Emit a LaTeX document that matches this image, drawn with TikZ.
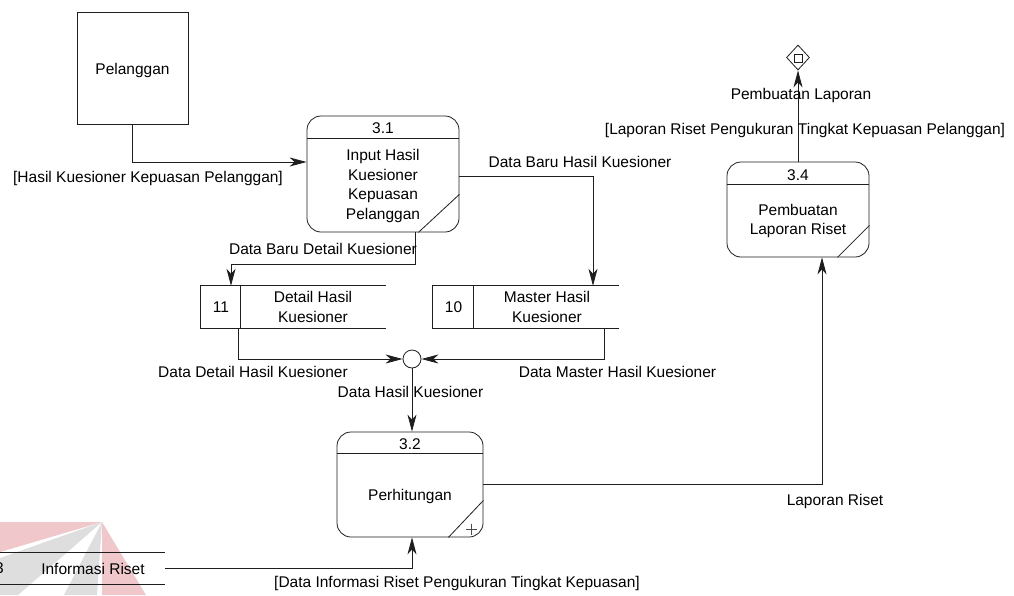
\documentclass[tikz,border=0pt]{standalone}
\usepackage{fontspec}
\setmainfont{Liberation Sans}
\usetikzlibrary{arrows.meta,calc,shapes.geometric}
\definecolor{inkline}{RGB}{30,30,30}
\definecolor{wmpink}{RGB}{240,200,204}
\definecolor{wmgrey}{RGB}{222,222,222}
\begin{document}
\begin{tikzpicture}[x=1pt,y=-1pt,
  every node/.style={font=\fontsize{15.5}{19.5}\selectfont, inner sep=0pt, text=black},
  wire/.style={line width=0.8pt, draw=inkline},
  flow/.style={wire, -{Stealth[length=17pt,width=9pt,inset=5pt]}},
  entity/.style={wire, rectangle, minimum width=111pt, minimum height=112pt},
  procbox/.style={wire, rectangle, rounded corners=14pt},
  storebox/.style={rectangle, minimum height=42pt},
  txt/.style={align=center}
]
\useasboundingbox (0,0) rectangle (1014,595);
\clip (0,0) rectangle (1014,595);
\fill[white] (0,0) rectangle (1014,595);

% faint logo in the lower left corner
\fill[wmpink] (0,522) -- (102,522) -- (0,552) -- cycle;
\fill[wmgrey] (102,522) -- (0,558) -- (0,595) -- (18,595) -- cycle;
\fill[wmgrey] (102,522) -- (64,595) -- (97,595) -- cycle;
\fill[wmpink] (102,522) -- (102,595) -- (146,595) -- cycle;

% external entity
\node[entity] (pel) at (132.5,68) {};
\node (pelt) at (132.5,70) {Pelanggan};

% process 3.1
\node[procbox, minimum width=152pt, minimum height=116pt] (p31) at (383,174) {};
\draw[wire] ($(p31.north west)+(0,23)$) -- ($(p31.north east)+(0,23)$);
\draw[wire] ($(p31.south east)+(-41,0)$) -- ($(p31.south east)+(0,-38)$);
\node (p31n) at (383,128) {3.1};
\node[txt] (p31t) at (383,186) {Input Hasil\\Kuesioner\\Kepuasan\\Pelanggan};

% process 3.2
\node[procbox, minimum width=146pt, minimum height=105pt] (p32) at (410,484.5) {};
\draw[wire] ($(p32.north west)+(0,22)$) -- ($(p32.north east)+(0,22)$);
\draw[wire] ($(p32.south east)+(-35,0)$) -- ($(p32.south east)+(0,-37)$);
\draw[line width=0.6pt, draw=black!70] (465.5,529) -- (476.5,529) (471,523.5) -- (471,534.5);
\node (p32n) at (410,444) {3.2};
\node (p32t) at (410,496) {Perhitungan};

% process 3.4
\node[procbox, minimum width=142pt, minimum height=95pt] (p34) at (798,209.5) {};
\draw[wire] ($(p34.north west)+(0,23)$) -- ($(p34.north east)+(0,23)$);
\draw[wire] ($(p34.south east)+(-32,0)$) -- ($(p34.south east)+(0,-32)$);
\node (p34n) at (798,175) {3.4};
\node[txt] (p34t) at (798,221) {Pembuatan\\Laporan Riset};

% data stores
\node[storebox, minimum width=185pt] (st11) at (293.5,307) {};
\draw[wire] (st11.north east) -- (st11.north west) -- (st11.south west) -- (st11.south east);
\draw[wire] ($(st11.north west)+(40,0)$) -- ($(st11.south west)+(40,0)$);
\node (st11n) at (221,307) {11};
\node[txt] (st11t) at (313,307) {Detail Hasil\\Kuesioner};

\node[storebox, minimum width=186pt] (st10) at (526,307) {};
\draw[wire] (st10.north east) -- (st10.north west) -- (st10.south west) -- (st10.south east);
\draw[wire] ($(st10.north west)+(41,0)$) -- ($(st10.south west)+(41,0)$);
\node (st10n) at (453.5,307) {10};
\node[txt] (st10t) at (547,307) {Master Hasil\\Kuesioner};

\node[storebox, minimum width=205pt, minimum height=31pt] (info) at (62.5,568.5) {};
\draw[wire] (info.north east) -- (info.north west) -- (info.south west) -- (info.south east);
\draw[wire] ($(info.north west)+(40,0)$) -- ($(info.south west)+(40,0)$);
\node (infon) at (-0.5,568.5) {3};
\node (infot) at (93,568.5) {Informasi Riset};

% junction and terminal
\node[wire, circle, minimum size=18pt] (jn) at (412,359) {};
\node[wire, diamond, minimum width=23pt, minimum height=25pt] (dm) at (798,57.5) {};
\node[wire, rectangle, minimum size=8pt] (dmsq) at (798,58) {};

% data flows
\draw[flow] (pel.south) |- ($(p31.west)+(0,-12)$);
\draw[flow] ($(p31.east)+(0,2)$) -| ($(st10.north)+(67,0)$);
\draw[flow] ($(p31.south)+(32,0)$) -- ($(p31.south)+(32,32)$) -| ($(st11.north)+(-62.5,0)$);
\draw[flow] ($(st11.south)+(-55.5,0)$) |- (jn.west);
\draw[flow] ($(st10.south)+(78,0)$) |- (jn.east);
\draw[flow] (jn.south) -- (jn.south |- p32.north);
\draw[flow] (info.east) -| (p32.south -| jn);
\draw[flow] (p32.east) -| ($(p34.south)+(24,0)$);
\draw[flow] (p34.north) -- (dm.south);

% flow labels
\node (l1) at (148,178) {[Hasil Kuesioner Kepuasan Pelanggan]};
\node (l2) at (580,162) {Data Baru Hasil Kuesioner};
\node (l3) at (323,249) {Data Baru Detail Kuesioner};
\node (l4) at (253,372) {Data Detail Hasil Kuesioner};
\node (l5) at (617.5,372) {Data Master Hasil Kuesioner};
\node (l6) at (410.5,392) {Data Hasil Kuesioner};
\node (l7) at (457,583) {[Data Informasi Riset Pengukuran Tingkat Kepuasan]};
\node (l8) at (835,501) {Laporan Riset};
\node (l9) at (801,95) {Pembuatan Laporan};
\node (l10) at (805,130) {[Laporan Riset Pengukuran Tingkat Kepuasan Pelanggan]};
\end{tikzpicture}
\end{document}
